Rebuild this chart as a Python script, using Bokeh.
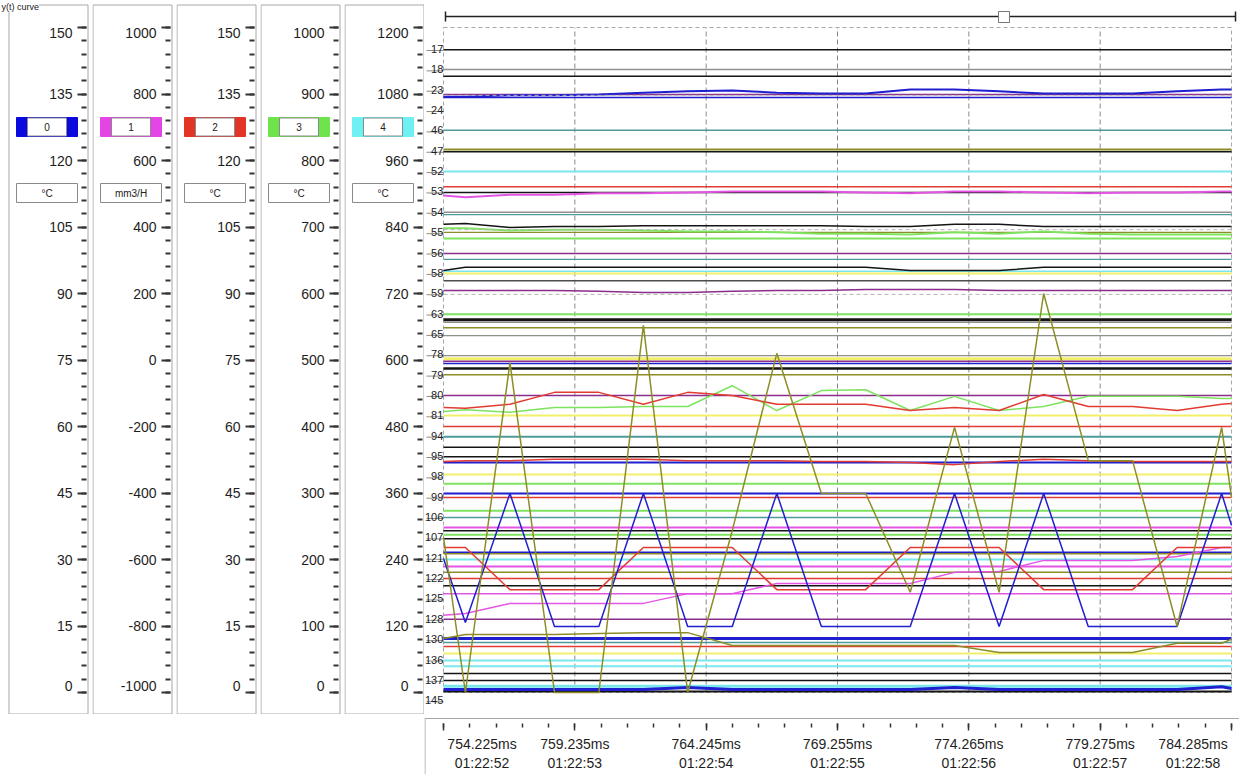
from bokeh.plotting import figure
from bokeh.layouts import row, column
from bokeh.models import Range1d, LinearAxis, FixedTicker
from bokeh.embed import file_html
from bokeh.resources import INLINE
from bokeh.core.properties import value

FONT = "Liberation Sans"

# ------------------------------------------------------------------ data
chart_title = "y(t) curve"

time_ms = [754.225, 755.06, 756.76, 758.46, 760.15, 761.85, 763.54, 765.24, 766.94, 768.64,
           770.33, 772.03, 773.72, 775.42, 777.12, 778.82, 780.51, 782.21, 783.91, 784.285]

tick_ms = [754.225, 759.235, 764.245, 769.255, 774.265, 779.275, 784.285]
tick_clock = ["01:22:52", "01:22:53", "01:22:54", "01:22:55", "01:22:56", "01:22:57", "01:22:58"]

axis_ids = ["0", "1", "2", "3", "4"]
axis_units = ["°C", "mm3/H", "°C", "°C", "°C"]
axis_min = [0, -1000, 0, 0, 0]
axis_max = [150, 1000, 150, 1000, 1200]
axis_step = [15, 200, 15, 100, 120]
axis_colors = ["#0a0adf", "#e445e4", "#e23427", "#6ee34c", "#6ff0f2"]

channel_ids = ["17", "18", "23", "24", "46", "47", "52", "53", "54", "55", "56", "58", "59",
               "63", "65", "78", "79", "80", "81", "94", "95", "98", "99", "106", "107", "121",
               "122", "125", "128", "130", "136", "137", "145"]

BLK, GRY, DGR = "#141414", "#8f8f8f", "#4d4d4d"
BLU, PUR, TEA = "#1f1fd0", "#8b2d8b", "#4e9a9a"
OLV, CYN, RED = "#8d8d28", "#78e8ee", "#e23b32"
MAG, GRN, YEL = "#e455e4", "#7ee35f", "#f2f06a"

# constant channels (value in axis-0 units)
flat_level = [145.0, 140.5, 139.0, 134.9, 134.2, 126.8, 122.5, 122.0, 117.5, 114.1, 112.8,
              108.3, 107.8, 103.8, 102.4, 99.0, 97.7, 95.0, 94.5, 92.9, 85.3, 84.1, 83.5,
              82.3, 80.5, 76.0, 75.3, 74.7, 74.2, 73.1, 71.7, 67.0, 62.5, 60.0, 57.7, 55.3,
              53.2, 51.9, 49.2, 47.1, 44.9, 44.0, 41.0, 39.5, 37.2, 36.5, 35.6, 34.7, 31.6,
              31.3, 30.0, 28.4, 27.1, 25.7, 24.1, 22.3, 16.5, 12.2, 11.3, 10.4, 8.8, 7.2,
              5.9, 4.3, 2.7, 1.4, 0.2]
flat_color = [BLK, GRY, BLK, PUR, BLU, TEA, OLV, BLK, CYN, RED, BLK,
              GRY, TEA, OLV, GRN, PUR, TEA, CYN, YEL, DGR, GRN, BLK, GRY,
              OLV, GRY, GRY, YEL, PUR, BLU, BLK, OLV, PUR, YEL, RED, TEA, BLK,
              BLK, BLU, YEL, GRN, BLU, RED, GRN, TEA, MAG, BLK, GRN, BLK, BLU,
              OLV, CYN, MAG, OLV, RED, BLK, MAG, PUR, BLU, TEA, RED, YEL, CYN,
              CYN, BLK, BLK, CYN, BLK]
flat_width = [1.5, 1.5, 1.5, 1.5, 1.5, 1.5, 2, 1.5, 2, 1.5, 1.5,
              1.5, 1.2, 1.2, 2, 1.5, 1.2, 1.5, 2, 1.5, 2, 3, 1.5,
              1.5, 1.2, 1.2, 3, 1.5, 1.5, 2.5, 1.5, 1.5, 2, 1.5, 2, 1.5,
              1.5, 2, 2, 2, 2, 1.5, 2, 1.5, 2, 1.5, 2, 1.5, 2,
              1.5, 2, 2, 1.5, 1.5, 1.5, 1.5, 1.5, 3, 1.5, 1.5, 2, 2,
              2, 1.5, 1.5, 3, 2]

# dashed reference levels seen in the plot
dashed_level = [134.7, 104.4, 89.8]

# varying channels
blue_top = [134.4, 134.4, 134.7, 134.7, 134.9, 135.3, 135.6, 135.8, 135.3, 135.1,
            135.1, 136.0, 136.0, 135.6, 135.1, 135.1, 135.1, 135.6, 136.0, 136.0]
magenta_top = [112.1, 111.7, 112.3, 112.3, 112.6, 112.6, 112.8, 113.0, 113.0, 113.0,
               112.8, 112.6, 113.0, 113.0, 112.8, 112.6, 112.8, 112.8, 113.0, 113.0]
black_upper = [105.6, 105.8, 104.9, 105.1, 105.1, 105.3, 105.3, 105.3, 105.3, 105.3,
               105.1, 105.1, 105.6, 105.6, 105.1, 105.1, 105.1, 105.1, 105.1, 105.1]
green_upper = [104.7, 104.7, 104.2, 104.4, 104.4, 104.2, 104.0, 104.0, 103.8, 103.5,
               103.5, 103.3, 103.8, 103.5, 104.0, 103.5, 103.3, 103.3, 103.3, 103.3]
black_mid = [95.2, 95.9, 95.9, 95.9, 95.9, 95.9, 95.9, 95.9, 95.9, 95.9,
             95.9, 95.2, 95.2, 95.2, 95.9, 95.9, 95.9, 95.9, 95.9, 95.9]
purple_mid = [90.7, 90.7, 90.7, 90.7, 90.5, 90.2, 90.2, 90.5, 90.7, 90.7,
              90.9, 90.9, 90.9, 90.7, 90.7, 90.7, 90.7, 90.7, 90.7, 90.7]
green_wave = [63.4, 63.8, 63.2, 64.3, 64.3, 64.5, 64.5, 69.2, 63.6, 68.1,
              68.3, 63.6, 66.8, 63.6, 64.5, 66.8, 66.8, 66.8, 66.3, 66.3]
red_wave = [64.3, 64.1, 65.0, 67.7, 67.7, 65.0, 67.7, 67.0, 65.0, 65.0,
            65.0, 63.6, 64.3, 63.6, 67.2, 64.5, 64.5, 63.6, 65.0, 65.2]
red_low = [52.1, 52.3, 52.3, 52.6, 52.6, 52.6, 52.3, 52.3, 52.3, 52.1,
           52.1, 51.9, 51.4, 52.1, 52.6, 52.3, 52.1, 52.1, 52.1, 52.1]
magenta_rise = [17.4, 17.8, 20.1, 20.1, 20.1, 20.1, 22.3, 22.3, 24.6, 24.6,
                24.6, 24.6, 27.1, 27.3, 29.8, 29.8, 29.8, 30.7, 32.7, 32.7]
olive_low = [12.2, 13.1, 13.1, 13.1, 13.3, 13.5, 13.5, 10.6, 10.6, 10.6,
             10.6, 10.6, 10.6, 9.0, 9.0, 9.0, 9.0, 11.1, 11.1, 12.0]
blue_bottom = [0.7, 0.7, 0.7, 0.7, 0.7, 0.7, 1.1, 0.7, 0.7, 0.7,
               0.7, 0.7, 1.1, 0.7, 0.7, 0.7, 0.7, 0.7, 1.3, 0.9]
red_square = [32.7, 32.7, 23.2, 23.2, 23.2, 32.7, 32.7, 32.7, 23.2, 23.2,
              23.2, 32.7, 32.7, 32.7, 23.2, 23.2, 23.2, 32.7, 32.7, 32.7]
blue_triangle = [30.2, 15.8, 44.9, 14.9, 14.9, 44.9, 14.9, 14.9, 44.9, 14.9,
                 14.9, 14.9, 44.9, 14.9, 44.9, 14.9, 14.9, 14.9, 44.9, 37.7]
olive_zigzag = [35.0, 0.0, 74.4, 0.0, 0.0, 82.8, 0.0, 36.5, 76.5, 44.9,
                44.9, 22.6, 59.8, 22.6, 90.0, 52.3, 52.3, 14.9, 59.8, 44.0]

wave_series = [
    (blue_top, BLU, 2), (magenta_top, MAG, 2), (black_upper, BLK, 1.5),
    (green_upper, GRN, 2), (black_mid, BLK, 1.5), (purple_mid, PUR, 1.5),
    (red_low, RED, 1.5), (olive_low, OLV, 1.5), (blue_bottom, BLU, 3),
    (magenta_rise, MAG, 1.5), (green_wave, GRN, 1.5), (red_wave, RED, 1.5),
    (red_square, RED, 1.5), (blue_triangle, BLU, 1.5), (olive_zigzag, OLV, 1.5),
]

# ------------------------------------------------------------------ layout constants
PAGE_H = 714           # height of the panels / main plot
TOP_Y, BOT_Y = 27.0, 692.0
X0_PX, X1_PX = 443.0, 1231.0
MAIN_L, MAIN_R = 424, 1239
BORDER = "#a8a8a8"


def yrange_for(vmin, vmax):
    ppu = (BOT_Y - TOP_Y) / (vmax - vmin)
    return Range1d(vmin - (PAGE_H - BOT_Y) / ppu, vmax + TOP_Y / ppu)


def base_fig(width, height, xr, yr):
    p = figure(width=width, height=height, x_range=xr, y_range=yr,
               x_axis_location=None, y_axis_location=None, toolbar_location=None,
               output_backend="svg", min_border=0, outline_line_color=None,
               background_fill_color="white", border_fill_color="white")
    p.grid.visible = False
    return p


def make_panel(k, page_left, width, box_left):
    vmin, vmax, step = axis_min[k], axis_max[k], axis_step[k]
    ppu = (BOT_Y - TOP_Y) / (vmax - vmin)
    p = base_fig(width, PAGE_H, Range1d(page_left, page_left + width), yrange_for(vmin, vmax))
    p.extra_y_ranges = {"px": Range1d(PAGE_H, 0)}
    b = box_left
    p.quad(left=[b + 0.5], right=[b + 79.5], top=[4.5], bottom=[713.5], y_range_name="px",
           fill_color=None, line_color=BORDER, line_width=1)
    majors = list(range(vmin, vmax + 1, step))
    nminor = int(round((vmax - vmin) / step * 5))
    minors = [vmin + i * step / 5 for i in range(nminor + 1)]
    # tick marks only
    tick_ax = LinearAxis(fixed_location=b + 78, ticker=FixedTicker(ticks=majors, minor_ticks=minors),
                         axis_line_color=None, major_tick_out=9, major_tick_in=0,
                         minor_tick_out=5, minor_tick_in=0,
                         major_tick_line_width=2, minor_tick_line_width=2,
                         major_tick_line_color="#333333", minor_tick_line_color="#333333",
                         major_label_text_color=None)
    p.add_layout(tick_ax, "left")
    # labels; the two end labels are nudged inside the panel
    label_pos = [float(m) for m in majors]
    label_pos[0] = vmin + 7.0 / ppu
    label_pos[-1] = vmax - 5.5 / ppu
    lab_ax = LinearAxis(fixed_location=b + 78, ticker=FixedTicker(ticks=label_pos, minor_ticks=[]),
                        axis_line_color=None, major_tick_line_color=None,
                        minor_tick_line_color=None, major_tick_out=0, major_tick_in=0,
                        major_label_standoff=14, major_label_text_font=FONT,
                        major_label_overrides={lp: str(m) for lp, m in zip(label_pos, majors)},
                        major_label_text_font_size="14px", major_label_text_color="#1e1e1e")
    p.add_layout(lab_ax, "left")
    # colour box with channel number
    p.quad(left=[b + 8], right=[b + 69], top=[117], bottom=[136], y_range_name="px",
           fill_color=axis_colors[k], line_color=axis_colors[k])
    p.quad(left=[b + 19], right=[b + 58], top=[117.5], bottom=[135.5], y_range_name="px",
           fill_color="white", line_color="#8a8a8a", line_width=1)
    p.text(x=[b + 38.5], y=[126.5], text=[axis_ids[k]], y_range_name="px",
           text_font=value(FONT), text_font_size="10px", text_align="center",
           text_baseline="middle", text_color="#222222")
    # unit box
    p.quad(left=[b + 8], right=[b + 69], top=[183], bottom=[202], y_range_name="px",
           fill_color="white", line_color="#8a8a8a", line_width=1)
    p.text(x=[b + 38.5], y=[192.5], text=[axis_units[k]], y_range_name="px",
           text_font=value(FONT), text_font_size="10px", text_align="center",
           text_baseline="middle", text_color="#222222")
    return p


panels = []
panel_geom = [(0, 92, 8), (92, 84, 92), (176, 84, 176), (260, 84, 260), (344, 80, 344)]
for k, (pl, w, bl) in enumerate(panel_geom):
    panels.append(make_panel(k, pl, w, bl))

panels[0].text(x=[1], y=[1], text=[chart_title], y_range_name="px",
               text_font=value(FONT), text_font_size="9px", text_align="left",
               text_baseline="top", text_color="#222222",
               background_fill_color="white")

# ------------------------------------------------------------------ main plot
px_per_ms = (X1_PX - X0_PX) / (tick_ms[-1] - tick_ms[0])
main_xr = Range1d(tick_ms[0] - (X0_PX - MAIN_L) / px_per_ms,
                  tick_ms[-1] + (MAIN_R - X1_PX) / px_per_ms)
main = base_fig(MAIN_R - MAIN_L, PAGE_H, main_xr, yrange_for(axis_min[0], axis_max[0]))
main.extra_x_ranges = {"px": Range1d(MAIN_L, MAIN_R)}
main.extra_y_ranges = {"px": Range1d(PAGE_H, 0)}

t0, t1 = tick_ms[0], tick_ms[-1]
v0, v1 = axis_min[0], axis_max[0]
main.segment(x0=tick_ms[1:-1], x1=tick_ms[1:-1], y0=[v0] * 5, y1=[v1] * 5,
             line_color="#8a8a8a", line_dash="5 3", line_width=1)
main.quad(left=[t0], right=[t1], bottom=[v0], top=[v1], fill_color=None,
          line_color="#a8a8a8", line_dash="4 3", line_width=1)

main.multi_line(xs=[[t0, t1] for _ in flat_level], ys=[[v, v] for v in flat_level],
                line_color=flat_color, line_width=flat_width)
for ser, col, w in wave_series:
    main.line(time_ms, ser, line_color=col, line_width=w)
main.segment(x0=[t0] * len(dashed_level), x1=[t1] * len(dashed_level), y0=dashed_level,
             y1=dashed_level, line_color="#b4b4b4", line_dash="4 3", line_width=1)

# channel index labels on the left of the plot
lab_y = [50 + 20.35 * i for i in range(len(channel_ids))]
main.segment(x0=[426] * len(lab_y), x1=[443] * len(lab_y), y0=lab_y, y1=lab_y,
             x_range_name="px", y_range_name="px", line_color="#8a8a8a", line_width=1)
main.text(x=[442.8] * len(lab_y), y=[y - 1.5 for y in lab_y], text=channel_ids,
          x_range_name="px", y_range_name="px", text_font=value(FONT),
          text_font_size="11px", text_align="right", text_baseline="alphabetic",
          text_color="#222222")

# scroll slider on top
main.segment(x0=[445], x1=[1235], y0=[16], y1=[16], x_range_name="px", y_range_name="px",
             line_color="#222222", line_width=1.5)
main.segment(x0=[445, 1235], x1=[445, 1235], y0=[11, 11], y1=[21, 21],
             x_range_name="px", y_range_name="px", line_color="#222222", line_width=1.5)
main.scatter(x=[1003.5], y=[16.5], marker="square", size=11, x_range_name="px",
             y_range_name="px", fill_color="white", line_color="#777777", line_width=1)

# ------------------------------------------------------------------ time axis
XF_H = 60
xf = base_fig(MAIN_R - MAIN_L, XF_H, main_xr, Range1d(PAGE_H + XF_H, PAGE_H))
xf.extra_x_ranges = {"px": Range1d(MAIN_L, MAIN_R)}
xf.segment(x0=[MAIN_L, MAIN_L + 0.5], x1=[MAIN_R, MAIN_L + 0.5], y0=[718, 718],
           y1=[718, PAGE_H + XF_H], x_range_name="px", line_color=BORDER, line_width=1)

minor_ms = [tick_ms[0] + i * (tick_ms[1] - tick_ms[0]) / 5 for i in range(31)]
tick_axis = LinearAxis(fixed_location=723, ticker=FixedTicker(ticks=tick_ms, minor_ticks=minor_ms),
                       axis_line_color=None, major_tick_out=7, major_tick_in=0,
                       minor_tick_out=4, minor_tick_in=0, major_tick_line_width=1.5,
                       minor_tick_line_width=1.5, major_tick_line_color="#333333",
                       minor_tick_line_color="#333333", major_label_text_color=None)
xf.add_layout(tick_axis, "below")

half_label = 38.5 / px_per_ms
label_pos_x = list(tick_ms)
label_pos_x[0] = tick_ms[0] + half_label
label_pos_x[-1] = tick_ms[-1] - half_label
overrides = {pos: f"{ms:.3f}ms\n{clk}" for pos, ms, clk in zip(label_pos_x, tick_ms, tick_clock)}
label_axis = LinearAxis(fixed_location=723, ticker=FixedTicker(ticks=label_pos_x, minor_ticks=[]),
                        axis_line_color=None, major_tick_line_color=None,
                        minor_tick_line_color=None, major_label_standoff=6,
                        major_label_overrides=overrides, major_label_text_font=FONT,
                        major_label_text_font_size="14px", major_label_text_color="#1e1e1e")
xf.add_layout(label_axis, "below")

layout = row(*panels, column(main, xf, spacing=0), spacing=0)

with open("out.html", "w") as f:
    f.write(file_html(layout, INLINE, title="y(t) curve"))
